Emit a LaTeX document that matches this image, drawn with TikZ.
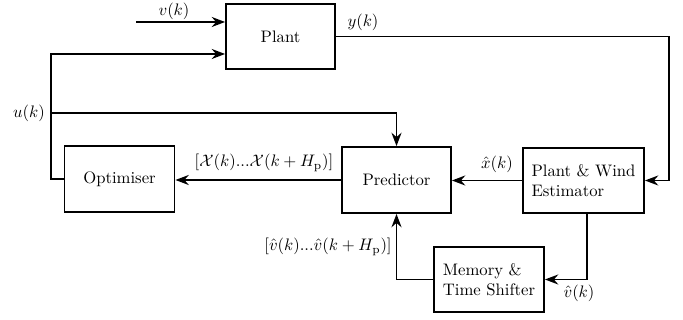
\documentclass[tikz,border=0pt]{standalone}
\usetikzlibrary{arrows.meta}
\begin{document}
\begin{tikzpicture}[x=0.6pt,y=-0.6pt,
  block/.style={draw,line width=1.1pt,rectangle,inner sep=0pt,font=\normalsize},
  conn/.style={line width=1.1pt,-{Stealth[length=8pt,width=6pt,inset=2.6pt]}},
  lbl/.style={inner sep=0pt}]
\useasboundingbox (0,0) rectangle (683,320);

% blocks
\node[block,minimum width=65.4pt,minimum height=39pt] (plant) at (280.5,36.5) {Plant};
\node[block,minimum width=66pt,minimum height=39.6pt] (opt) at (119.5,179) {Optimiser};
\node[block,minimum width=65.4pt,minimum height=39.6pt] (pred) at (396.5,180) {Predictor};
\node[block,minimum width=72.6pt,minimum height=39pt,align=left] (est) at (583.5,180.5) {Plant \& Wind\\Estimator};
\node[block,minimum width=66pt,minimum height=39pt,align=left] (mem) at (489,279.5) {Memory \&\\Time Shifter};

% helper points for the wiring
\coordinate (vin) at (136,22);
\coordinate (uleft) at (51,54);
\coordinate (ubr) at (51,113);
\coordinate (ycorner) at (669,36.5);
\coordinate (edown) at (587,279.5);

% disturbance input
\draw[conn] (vin) -- (vin -| plant.west);
% control input back to the plant
\draw[conn] (opt.west) -| (uleft) -- (uleft -| plant.west);
% control input to the predictor
\draw[conn] (ubr) -| (pred.north);
% measured output to the estimator
\draw[conn] (plant.east) -- (ycorner) |- (est.east);
% state estimate
\draw[conn] (est.west) -- (est.west -| pred.east);
% predicted trajectory
\draw[conn] (pred.west) -- (pred.west -| opt.east);
% wind estimate into memory
\draw[conn] (est.south -| edown) -- (edown) -- (mem.east);
% wind sequence into the predictor
\draw[conn] (mem.west) -| (pred.south);

% signal labels
\node[lbl] (lv) at (174,11) {$v(k)$};
\node[lbl] (ly) at (363,22) {$y(k)$};
\node[lbl] (lu) at (29,113) {$u(k)$};
\node[lbl] (lX) at (264,163) {$[\mathcal{X}(k)...\mathcal{X}(k+H_\mathrm{p})]$};
\node[lbl] (lxh) at (497,164) {$\hat{x}(k)$};
\node[lbl] (lvs) at (328,247) {$[\hat{v}(k)...\hat{v}(k+H_\mathrm{p})]$};
\node[lbl] (lvh) at (579,293) {$\hat{v}(k)$};
\end{tikzpicture}
\end{document}
